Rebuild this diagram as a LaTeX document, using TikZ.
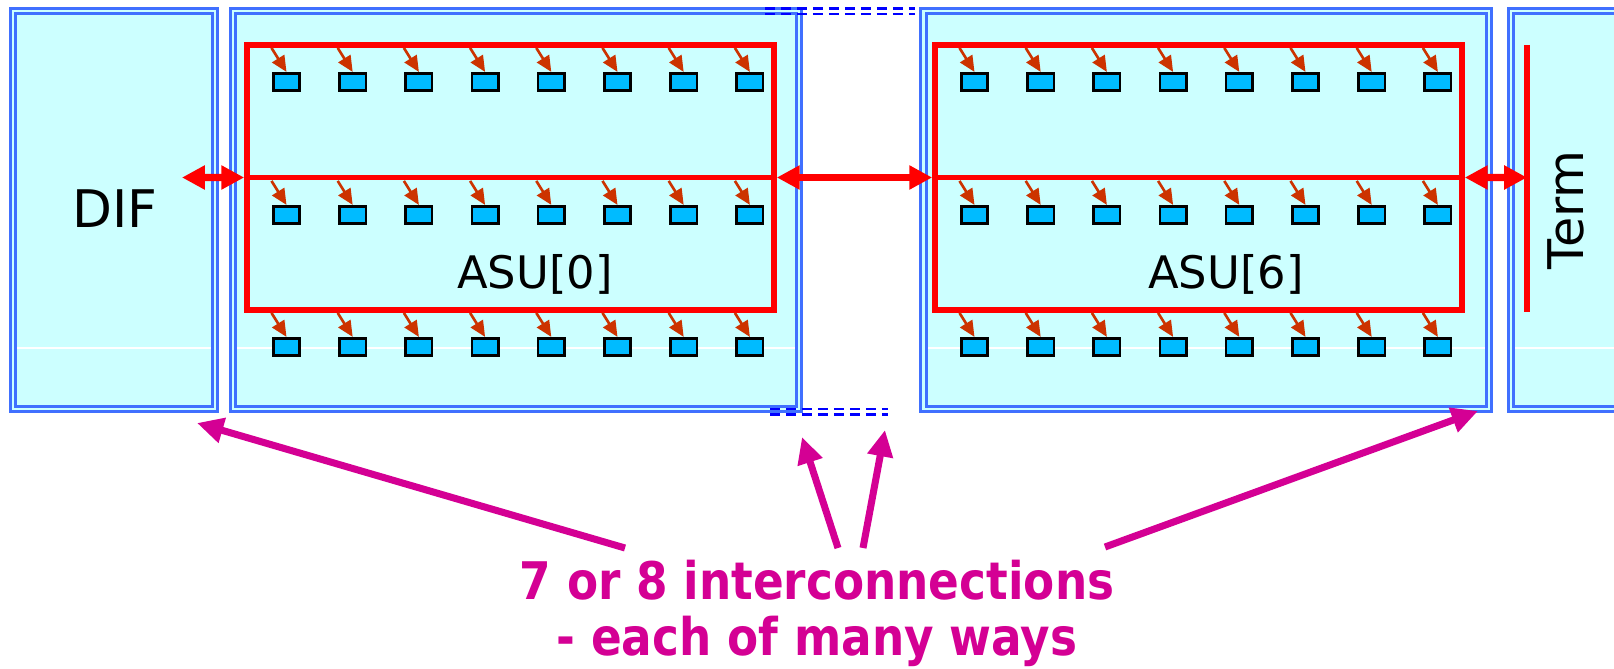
\documentclass[tikz,border=0pt]{standalone}
\usepackage{fontspec}
\setmainfont{DejaVu Sans}
\usetikzlibrary{arrows.meta,fit}
\definecolor{boxfill}{HTML}{CCFFFF}
\definecolor{boxline}{HTML}{4070FF}
\definecolor{cellfill}{HTML}{00BBFF}
\definecolor{feedred}{HTML}{CC3300}
\definecolor{notemag}{HTML}{D40094}
\definecolor{gapblue}{HTML}{0000FF}

\begin{document}
\begin{tikzpicture}[x=0.02cm,y=-0.02cm,
  unit/.style={fill=boxfill,inner sep=0pt,outer sep=0pt},
  unitedge/.style={draw=boxline,line width=1.5pt,double=boxfill,double distance=1.6pt},
  bus/.style={draw=red,line width=3.2pt,inner sep=0pt},
  midbus/.style={red,line width=2.4pt},
  cell/.style={draw=black,fill=cellfill,line width=1.5pt,minimum width=0.53cm,minimum height=0.35cm,inner sep=0pt},
  feed/.style={feedred,line width=1.5pt,-{Triangle[length=9pt,width=8pt]}},
  link/.style={red,line width=4pt,{Triangle[length=13pt,width=13pt]}-{Triangle[length=13pt,width=13pt]}},
  callout/.style={notemag,line width=4pt,-{Triangle[length=15pt,width=14pt]}},
  gap/.style={gapblue,line width=1.7pt,dash pattern=on 5.7pt off 3.4pt},
  lbl/.style={font=\fontsize{25.5}{28}\selectfont}]
\useasboundingbox (0,0) rectangle (1614,669);
\fill[white] (0,0) rectangle (1614,669);
\clip (0,0) rectangle (1614,669);
% ================ units ================
\node[unit,fit={(13,11) (215,409)}] (dif) {};
\node[unit,fit={(233,11) (799,409)}] (asu0) {};
\node[unit,fit={(923.5,11) (1489,409)}] (asu6) {};
\node[unit,fit={(1511,11) (1660,409)}] (term) {};
\draw[white,line width=0.8pt] (0,348) -- (1614,348);
\foreach \b in {dif,asu0,asu6,term}{\draw[unitedge] (\b.south west) rectangle (\b.north east);}
% omitted units ASU[1..5]
\draw[gap] (765,8.5) -- (915,8.5);
\draw[gap] (765,14) -- (915,14);
\draw[gap] (770,409) -- (888,409);
\draw[gap] (770,414.5) -- (888,414.5);
% ================ buses ================
\node[bus,fit={(247,45) (774,310)}] (bus0) {};
\node[bus,fit={(935,45) (1462,310)}] (bus6) {};
\draw[midbus] (bus0.west) -- (bus0.east);
\draw[midbus] (bus6.west) -- (bus6.east);
\coordinate (termtop) at (1527,45);
\coordinate (termbot) at (1527,312);
\coordinate (termtap) at (1527,177.5);
\draw[red,line width=3.2pt] (termtop) -- (termbot);
% cells, 3 rows of 8 in each ASU
\foreach \u/\x in {0/286.5,6/974.5}
  \foreach \r/\y in {1/82,2/215,3/347}
    \foreach \k in {0,...,7}{
      \node[cell] (c\u-\r-\k) at ({\x+66.2*\k},\y) {};
      \coordinate (f\u-\r-\k) at ([shift={(-15,-24)}]c\u-\r-\k.north);
      \draw[feed] (f\u-\r-\k) -- (c\u-\r-\k.north);
    }
% links between units
\coordinate (difport) at (182,177.5);
\draw[link] (difport) -- (bus0.west);
\draw[link] (bus0.east) -- (bus6.west);
\draw[link] (bus6.east) -- (termtap);
% labels
\node[font=\fontsize{29.5}{32}\selectfont] (diflabel) at (115,209) {DIF};
\node[lbl,anchor=base] (asu0label) at (535,288) {ASU[0]};
\node[lbl,anchor=base] (asu6label) at (1226,288) {ASU[6]};
\node[font=\fontsize{28}{30}\selectfont,rotate=90] (termlabel) at (1566,210) {Term};
% ================ note ================
\node[notemag,font=\bfseries\fontsize{29.5}{31.7}\selectfont,align=center,anchor=base] (notetext) at (817,655)
  {\scalebox{0.875}[1]{7 or 8 interconnections}\\\scalebox{0.875}[1]{- each of many ways}};
\coordinate (tail1) at (625,548);
\coordinate (tip1) at (197,423);
\coordinate (tail2) at (838,548);
\coordinate (tip2) at (802,437);
\coordinate (tail3) at (863,548);
\coordinate (tip3) at (885,430);
\coordinate (tail4) at (1105,547);
\coordinate (tip4) at (1478,411);
\foreach \i in {1,...,4}{\draw[callout] (tail\i) -- (tip\i);}
\end{tikzpicture}
\end{document}
